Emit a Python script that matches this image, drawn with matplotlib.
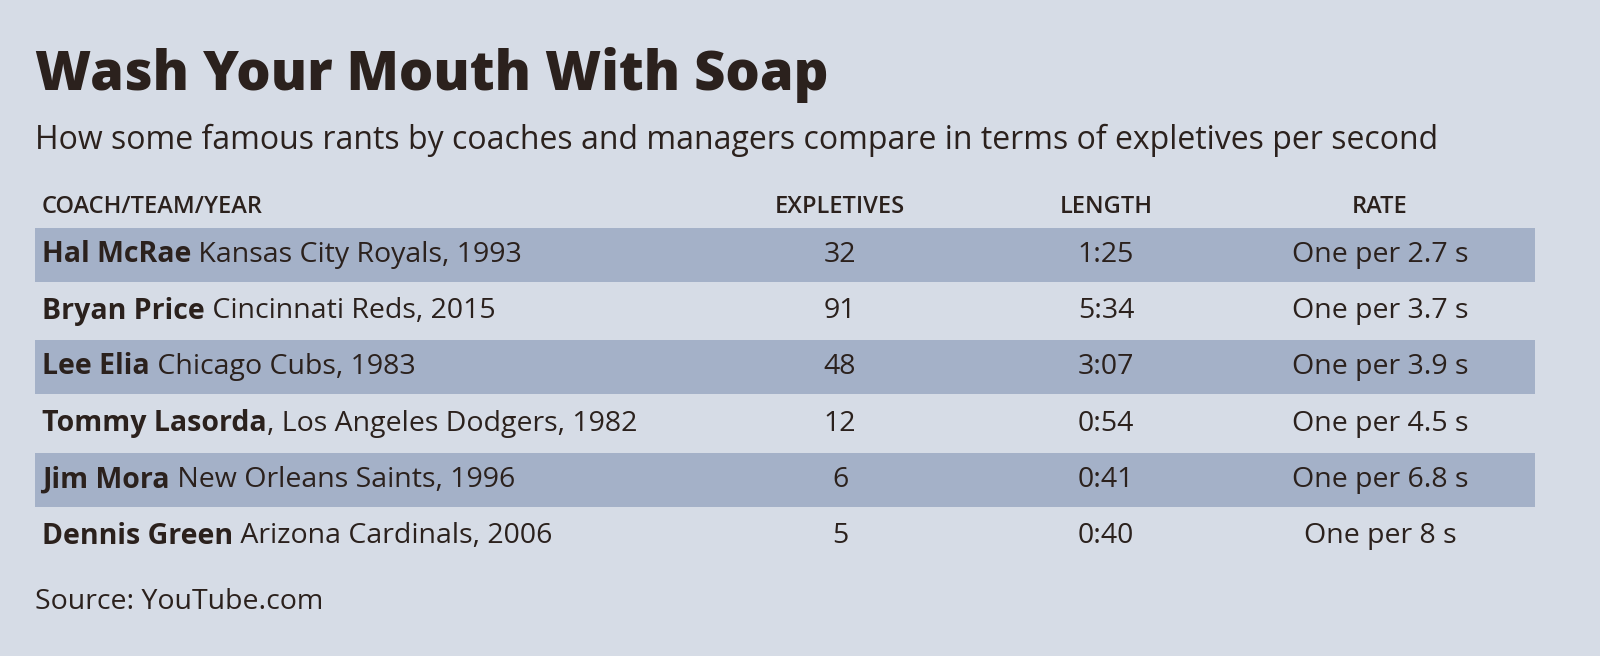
import matplotlib
matplotlib.use("Agg")
import matplotlib.pyplot as plt
from matplotlib.patches import Rectangle

title = "Wash Your Mouth With Soap"
subtitle = "How some famous rants by coaches and managers compare in terms of expletives per second"
headers = ["COACH/TEAM/YEAR", "EXPLETIVES", "LENGTH", "RATE"]
names = ["Hal McRae", "Bryan Price", "Lee Elia", "Tommy Lasorda", "Jim Mora", "Dennis Green"]
teams = [" Kansas City Royals, 1993", " Cincinnati Reds, 2015", " Chicago Cubs, 1983",
         ", Los Angeles Dodgers, 1982", " New Orleans Saints, 1996", " Arizona Cardinals, 2006"]
expletives = [32, 91, 48, 12, 6, 5]
lengths = ["1:25", "5:34", "3:07", "0:54", "0:41", "0:40"]
rates = ["One per 2.7 s", "One per 3.7 s", "One per 3.9 s", "One per 4.5 s", "One per 6.8 s", "One per 8 s"]
source = "Source: YouTube.com"

BG = "#d6dce6"
BAND = "#a4b1c8"
TXT = "#2b211d"
FONT = "Open Sans"

fig = plt.figure(figsize=(16, 6.56), dpi=100, facecolor=BG)
ax = fig.add_axes([0, 0, 1, 1])
ax.set_xlim(0, 1600); ax.set_ylim(656, 0); ax.axis("off")
ax.set_facecolor(BG)

ax.text(35, 75, title, fontsize=39, fontweight="heavy", color=TXT, family=FONT,
        va="center", ha="left")
ax.text(35, 140, subtitle, fontsize=23, color=TXT, family=FONT, va="center", ha="left")

colx = [42, 840, 1106, 1380]
for i, h in enumerate(headers):
    ax.text(colx[i], 207, h, fontsize=17, color=TXT, family=FONT, va="center",
            ha="left" if i == 0 else "center", fontweight="semibold")

row_y = [255, 311, 367, 424, 480, 536]
fig.canvas.draw()
r = fig.canvas.get_renderer()
for i in range(len(names)):
    y = row_y[i]
    if i % 2 == 0:
        ax.add_patch(Rectangle((35, y - 27), 1500, 54, color=BAND, zorder=0, lw=0))
    t = ax.text(42, y, names[i], fontsize=20.5, fontweight="bold", color=TXT, family=FONT,
                va="center", ha="left")
    bb = t.get_window_extent(renderer=r)
    x_end = ax.transData.inverted().transform((bb.x1, bb.y0))[0]
    ax.text(x_end, y, teams[i], fontsize=20.5, color=TXT, family=FONT, va="center", ha="left")
    ax.text(colx[1], y, str(expletives[i]), fontsize=20.5, color=TXT, family=FONT, va="center", ha="center")
    ax.text(colx[2], y, lengths[i], fontsize=20.5, color=TXT, family=FONT, va="center", ha="center")
    ax.text(colx[3], y, rates[i], fontsize=20.5, color=TXT, family=FONT, va="center", ha="center")

ax.text(35, 602, source, fontsize=20.5, color=TXT, family=FONT, va="center", ha="left")
fig.savefig("out.png", dpi=100, facecolor=BG)
